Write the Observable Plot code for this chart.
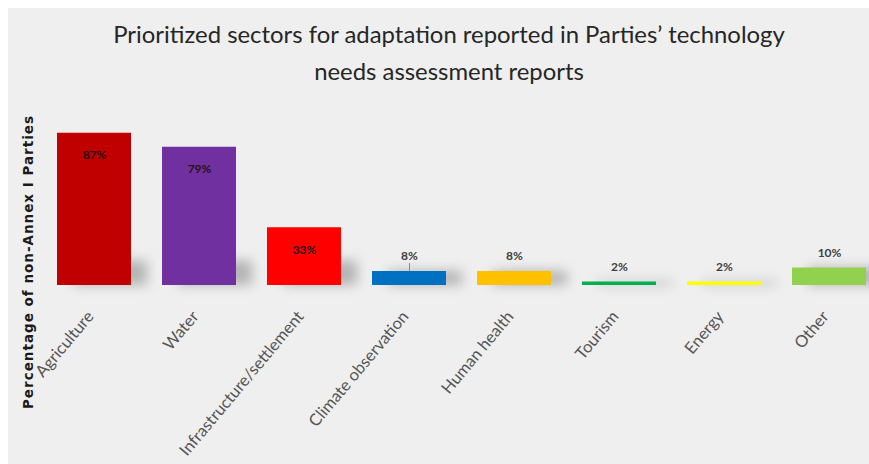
<!DOCTYPE html>
<html><head><meta charset="utf-8">
<script src="https://cdn.jsdelivr.net/npm/d3@7"></script>
<script src="https://cdn.jsdelivr.net/npm/@observablehq/plot@0.6"></script>
<style>
html,body{margin:0;padding:0;background:#fff;}
#wrap{position:absolute;left:8px;top:8px;width:861px;height:456px;background:#efefef;overflow:hidden;}
#title{font-family:Lato,"Open Sans",sans-serif;font-size:23.9px;line-height:37px;color:#262626;text-align:center;padding-top:6.5px;padding-left:21px;height:83px;box-sizing:border-box;white-space:nowrap;}
#ylab{position:absolute;left:20px;top:254px;transform:translate(-50%,-50%) rotate(-90deg);white-space:nowrap;font-family:"DejaVu Sans",sans-serif;font-weight:bold;font-size:13.5px;letter-spacing:1px;color:#1a1a1a;}
#chart{position:absolute;left:0;top:83px;}
</style></head>
<body>
<div id="wrap">
  <div id="title">Prioritized sectors for adaptation reported in Parties’ technology<br>needs assessment reports</div>
  <div id="ylab">Percentage of non-Annex I Parties</div>
  <div id="chart"></div>
</div>
<script>
const categories = ["Agriculture","Water","Infrastructure/settlement","Climate observation","Human health","Tourism","Energy","Other"];
const values = [87, 79, 33, 8, 8, 2, 2, 10];
const colors = ["#c00000","#7030a0","#ff0000","#0070c0","#ffc000","#00b050","#ffff00","#92d050"];
const leaderCategories = ["Climate observation"];

const data = categories.map((c, i) => ({category: c, value: values[i]}));

const plot = Plot.plot({
  width: 861,
  height: 373,
  marginTop: 0, marginRight: 0, marginBottom: 179, marginLeft: 0,
  style: {background: "transparent", overflow: "visible"},
  x: {domain: categories, range: [49, 858], paddingInner: 0.3, paddingOuter: 0, axis: null},
  y: {domain: [0, 100], range: [194, 19], axis: null},
  color: {domain: categories, range: colors},
  marks: [
    Plot.rectY(data, {x: "category", y: d => Math.min(d.value, 14), fill: "#7a7a7a", fillOpacity: 0.5, dx: 16}),
    Plot.barY(data, {x: "category", y: "value", fill: "category"}),
    Plot.ruleX(data.filter(d => leaderCategories.includes(d.category)), {x: "category", y1: "value", y2: d => d.value + 4.5, stroke: "#8a8a8a", strokeWidth: 1}),
    Plot.text(data.filter(d => d.value > 20), {x: "category", y: "value", text: d => d.value + "%", dy: 22, fill: "#2a1010", fontWeight: "bold", fontSize: 12, fontFamily: "Lato, sans-serif"}),
    Plot.text(data.filter(d => d.value <= 20), {x: "category", y: "value", text: d => d.value + "%", dy: -15, fill: "#404040", fontWeight: "bold", fontSize: 12, fontFamily: "Lato, sans-serif"}),
    Plot.axisX({tickSize: 0, tickPadding: 28, tickRotate: -50, dx: -4, fontSize: 16.5, fill: "#555555", fontFamily: "Lato, sans-serif", label: null})
  ]
});
const shadow = plot.querySelector('g[aria-label="rect"]');
if (shadow) shadow.style.filter = "blur(6px)";
document.getElementById("chart").appendChild(plot);
</script>
</body></html>
